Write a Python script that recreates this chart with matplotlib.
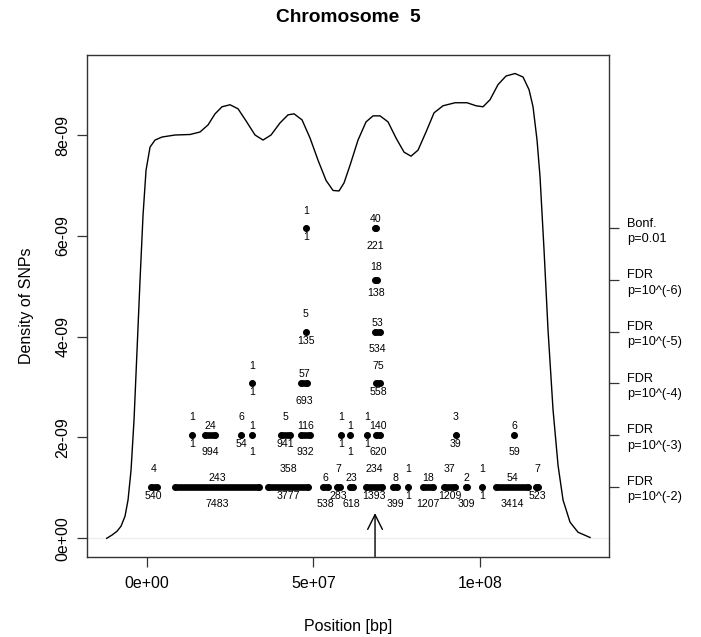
import matplotlib
matplotlib.use('Agg')
import matplotlib.pyplot as plt

plt.rcParams['font.family'] = ['Liberation Sans', 'DejaVu Sans']

# SNP density curve (bp, density)
CURVE_X = [-1.2e7, -1.04e7, -0.89e7, -0.77e7, -0.65e7, -0.56e7, -0.47e7, -0.38e7, -0.29e7,
           -0.2e7, -0.11e7, -0.02e7, 0.1e7, 0.25e7, 0.46e7, 0.85e7, 1.3e7, 1.6e7, 1.84e7,
           2.05e7, 2.26e7, 2.5e7, 2.74e7, 2.98e7, 3.25e7, 3.49e7, 3.73e7, 4.0e7, 4.24e7,
           4.42e7, 4.66e7, 4.9e7, 5.14e7, 5.38e7, 5.59e7, 5.77e7, 5.92e7, 6.1e7, 6.34e7,
           6.58e7, 6.79e7, 7.0e7, 7.24e7, 7.48e7, 7.72e7, 7.93e7, 8.14e7, 8.38e7, 8.62e7,
           8.89e7, 9.25e7, 9.61e7, 9.88e7, 1.009e8, 1.03e8, 1.054e8, 1.078e8, 1.105e8,
           1.129e8, 1.147e8, 1.159e8, 1.171e8, 1.18e8, 1.192e8, 1.204e8, 1.219e8, 1.234e8,
           1.249e8, 1.27e8, 1.294e8, 1.33e8]
CURVE_Y = [0.0, 0.065, 0.14, 0.24, 0.44, 0.76, 1.35, 2.35, 3.73,
           5.12, 6.41, 7.30, 7.76, 7.9, 7.96, 8.0, 8.01, 8.06, 8.2,
           8.42, 8.56, 8.6, 8.52, 8.28, 8.0, 7.9, 8.0, 8.24, 8.4,
           8.42, 8.3, 7.94, 7.5, 7.1, 6.9, 6.89, 7.05, 7.4, 7.9,
           8.26, 8.38, 8.38, 8.26, 7.94, 7.66, 7.58, 7.7, 8.06, 8.44,
           8.58, 8.64, 8.64, 8.58, 8.56, 8.7, 9.0, 9.17, 9.22,
           9.15, 8.9, 8.56, 7.9, 7.17, 5.72, 4.13, 2.55, 1.45,
           0.76, 0.32, 0.12, 0.016]
CURVE_Y = [v * 1e-9 for v in CURVE_Y]

# significance levels (y position of each row of dots) and their names
LEVELS = [1.025e-9, 2.05e-9, 3.075e-9, 4.10e-9, 5.125e-9, 6.15e-9]
LEVEL_NAMES = ['FDR\np=10^(-2)', 'FDR\np=10^(-3)', 'FDR\np=10^(-4)',
               'FDR\np=10^(-5)', 'FDR\np=10^(-6)', 'Bonf.\np=0.01']

# clusters per level: first / last SNP position, count above, count below
ROW1_START = [1.2e6, 8.5e6, 3.64e7, 5.3e7, 5.72e7, 6.1e7, 6.58e7, 7.39e7, 7.83e7,
              8.29e7, 8.92e7, 9.58e7, 1.005e8, 1.048e8, 1.168e8]
ROW1_END = [3.0e6, 3.36e7, 4.85e7, 5.45e7, 5.8e7, 6.2e7, 7.06e7, 7.51e7, 7.83e7,
            8.6e7, 9.25e7, 9.61e7, 1.005e8, 1.145e8, 1.174e8]
ROW1_TOP = ['4', '243', '358', '6', '7', '23', '234', '8', '1', '18', '37', '2', '1', '54', '7']
ROW1_BOT = ['540', '7483', '3777', '538', '283', '618', '1393', '399', '1', '1207', '1209',
            '309', '1', '3414', '523']

ROW2_START = [1.35e7, 1.75e7, 2.829e7, 3.168e7, 4.04e7, 4.64e7, 5.82e7, 6.099e7, 6.6e7,
              6.89e7, 9.27e7, 1.1019e8]
ROW2_END = [1.35e7, 2.05e7, 2.829e7, 3.168e7, 4.3e7, 4.9e7, 5.82e7, 6.099e7, 6.6e7,
            7.0e7, 9.27e7, 1.1019e8]
ROW2_TOP = ['1', '24', '6', '1', '5', '116', '1', '1', '1', '140', '3', '6']
ROW2_BOT = ['1', '994', '54', '1', '941', '932', '1', '1', '1', '620', '39', '59']

ROW3_START = [3.168e7, 4.64e7, 6.88e7]
ROW3_END = [3.168e7, 4.82e7, 7.0e7]
ROW3_TOP = ['1', '57', '75']
ROW3_BOT = ['1', '693', '558']

ROW4_START = [4.77e7, 6.85e7]
ROW4_END = [4.77e7, 7.0e7]
ROW4_TOP = ['5', '53']
ROW4_BOT = ['135', '534']

ROW5_START = [6.85e7]
ROW5_END = [6.9e7]
ROW5_TOP = ['18']
ROW5_BOT = ['138']

ROW6_START = [4.77e7, 6.85e7]
ROW6_END = [4.77e7, 6.88e7]
ROW6_TOP = ['1', '40']
ROW6_BOT = ['1', '221']

ARROW_POS = 6.85e7
ARROW_TIP = 0.5e-9

XTICKS = [0, 5e7, 1e8]
XTICK_LABELS = ['0e+00', '5e+07', '1e+08']
YTICKS = [0, 2e-9, 4e-9, 6e-9, 8e-9]
YTICK_LABELS = ['0e+00', '2e-09', '4e-09', '6e-09', '8e-09']

W, H = 701, 637
fig = plt.figure(figsize=(W / 100, H / 100), dpi=100)
ax = fig.add_axes([87.3 / W, 1 - 556.5 / H, (609 - 87.3) / W, (556.5 - 54.7) / H])
ax.set_xlim(-1.782e7, 1.3869e8)
ax.set_ylim(-0.361e-9, 9.593e-9)

ax.axhline(0, color='#eeeeee', lw=1.0, zorder=0)
ax.plot(CURVE_X, CURVE_Y, color='black', lw=1.0)

rows = [
    (ROW1_START, ROW1_END, ROW1_TOP, ROW1_BOT),
    (ROW2_START, ROW2_END, ROW2_TOP, ROW2_BOT),
    (ROW3_START, ROW3_END, ROW3_TOP, ROW3_BOT),
    (ROW4_START, ROW4_END, ROW4_TOP, ROW4_BOT),
    (ROW5_START, ROW5_END, ROW5_TOP, ROW5_BOT),
    (ROW6_START, ROW6_END, ROW6_TOP, ROW6_BOT),
]
far, near, mid = 0.347e-9, 0.179e-9, 0.264e-9
for lvl, (starts, ends, tops, bots) in zip(LEVELS, rows):
    for i, (s, e, t, b) in enumerate(zip(starts, ends, tops, bots)):
        ax.plot([s, e], [lvl, lvl], color='black', lw=4.8, solid_capstyle='round',
                marker='o', ms=4.8, markeredgewidth=0)
        cx = (s + e) / 2
        if len(starts) == 1:
            up, down = mid, mid
        elif i % 2 == 0:
            up, down = far, near
        else:
            up, down = near, far
        ax.text(cx, lvl + up, t, fontsize=7.6, ha='center', va='center')
        ax.text(cx, lvl - down, b, fontsize=7.6, ha='center', va='center')

ax.annotate('', xy=(ARROW_POS, ARROW_TIP), xytext=(ARROW_POS, -0.361e-9),
            arrowprops=dict(arrowstyle='->,head_length=1.06,head_width=0.53',
                            mutation_scale=10, lw=1.0, color='black',
                            shrinkA=0, shrinkB=0))

for sp in ax.spines.values():
    sp.set_linewidth(1.0)
    sp.set_color('#333333')

ax.set_xticks(XTICKS)
ax.set_xticklabels(XTICK_LABELS)
ax.set_yticks(YTICKS)
ax.set_yticklabels(YTICK_LABELS, rotation=90, va='center')
ax.tick_params(axis='x', length=7, width=0.9, pad=7.4, labelsize=11.5, color='#333333')
ax.tick_params(axis='y', length=7, width=0.9, pad=5, labelsize=11.5, color='#333333')

ax2 = ax.twinx()
ax2.set_ylim(ax.get_ylim())
ax2.set_yticks(LEVELS)
ax2.set_yticklabels(LEVEL_NAMES, fontsize=9.2, linespacing=1.35)
ax2.tick_params(axis='y', length=7.5, width=0.9, pad=5.5, color='#333333')
for sp in ax2.spines.values():
    sp.set_visible(False)

fig.text(348 / W, 1 - 18 / H, 'Chromosome  5', fontsize=13.8, fontweight='bold',
         ha='center', va='center')
fig.text(348 / W, 1 - 627 / H, 'Position [bp]', fontsize=11.5, ha='center', va='center')
fig.text(27 / W, 1 - 305.6 / H, 'Density of SNPs', fontsize=11.5, rotation=90,
         ha='center', va='center')

fig.savefig('out.png', dpi=100)
